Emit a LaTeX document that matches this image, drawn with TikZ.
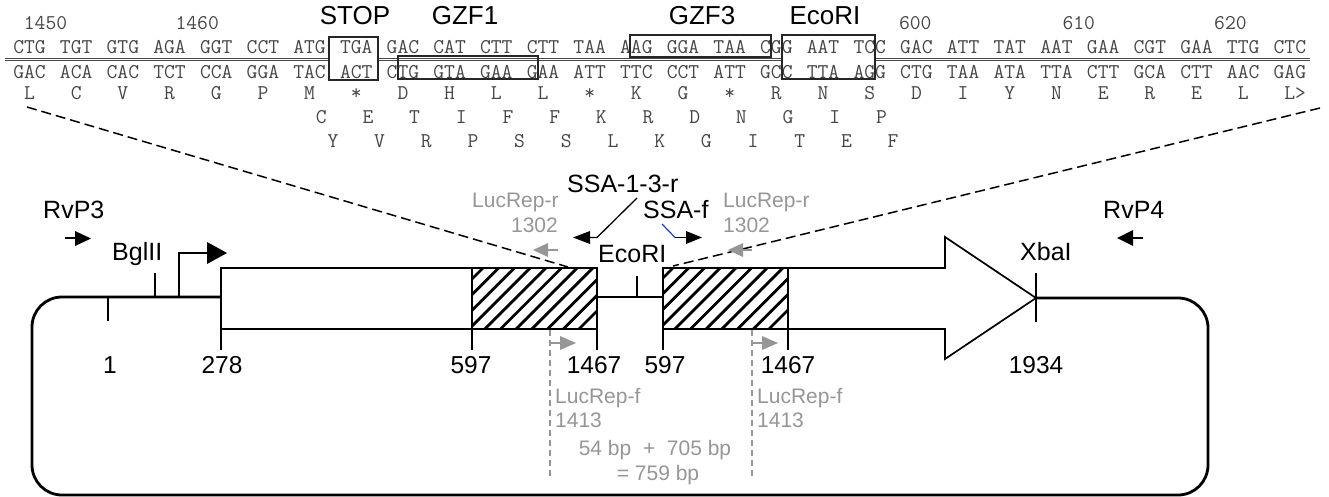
\documentclass[tikz,border=0pt]{standalone}
\usepackage{fontspec}
\setmainfont{Liberation Sans}
\definecolor{seqc}{RGB}{70,70,70}
\definecolor{lgray}{RGB}{150,150,150}
\definecolor{sblue}{RGB}{30,60,230}
\begin{document}
\begin{tikzpicture}[x=1pt,y=-1pt,
  lab/.style={font=\fontsize{25}{25}\selectfont, inner sep=0, anchor=base west},
  toplab/.style={font=\fontsize{26}{26}\selectfont, inner sep=0, anchor=base},
  num/.style={font=\fontsize{24.5}{24.5}\selectfont, inner sep=0, anchor=base},
  glab/.style={font=\fontsize{21}{21}\selectfont, text=lgray, inner sep=0, anchor=base west},
  seq/.style={font=\ttfamily\fontsize{21}{21}\selectfont, text=seqc, inner sep=0, anchor=base},
  seqw/.style={font=\ttfamily\fontsize{21}{21}\selectfont, text=seqc, inner sep=0, anchor=base west},
  seqbox/.style={draw=black!85, line width=1.5pt},
  zoomline/.style={line width=1.5pt, dash pattern=on 10pt off 5pt},
  backbone/.style={line width=2.8pt},
  outline/.style={line width=1.7pt},
  tick/.style={line width=1.5pt},
  hatch/.style={line width=2.8pt},
  gdash/.style={draw=lgray, line width=1.2pt, dash pattern=on 6pt off 4pt},
]
\useasboundingbox (0,0) rectangle (1329,497);

% ---------------- sequence ----------------
\foreach \c [count=\i from 0] in {CTG,TGT,GTG,AGA,GGT,CCT,ATG,TGA,GAC,CAT,CTT,CTT,TAA,AAG,GGA,TAA,CGG,AAT,TCC,GAC,ATT,TAT,AAT,GAA,CGT,GAA,TTG,CTC}
  \node[seq] (top\i) at ({12+(4*\i+1.5)*11.67},54) {\c};
\foreach \c [count=\i from 0] in {GAC,ACA,CAC,TCT,CCA,GGA,TAC,ACT,CTG,GTA,GAA,GAA,ATT,TTC,CCT,ATT,GCC,TTA,AGG,CTG,TAA,ATA,TTA,CTT,GCA,CTT,AAC,GAG}
  \node[seq] (bot\i) at ({12+(4*\i+1.5)*11.67},79) {\c};
\foreach \c [count=\i from 0] in {L,C,V,R,G,P,M,*,D,H,L,L,*,K,G,*,R,N,S,D,I,Y,N,E,R,E,L}
  \node[seq] (aa\i) at ({12+(4*\i+1.5)*11.67},100) {\c};
\node[seqw] (aalast) at ({12+109*11.67},100) {L>};
\foreach \c [count=\i from 0] in {C,E,T,I,F,F,K,R,D,N,G,I,P}
  \node[seq] (ab\i) at ({12+(4*\i+26.5)*11.67},124) {\c};
\foreach \c [count=\i from 0] in {Y,V,R,P,S,S,L,K,G,I,T,E,F}
  \node[seq] (ac\i) at ({12+(4*\i+27.5)*11.67},148) {\c};

\node[seqw] (n1450) at ({12+1*11.67},30) {1450};
\node[seqw] (n1460) at ({12+14*11.67},30) {1460};
\node[seqw] (n600) at ({12+76*11.67},30) {600};
\node[seqw] (n610) at ({12+90*11.67},30) {610};
\node[seqw] (n620) at ({12+103*11.67},30) {620};

\draw[seqc, line width=0.8pt, double=white, double distance=1.1pt]
  (5,59.7) -- (329,59.7) (378,59.7) -- (782,59.7) (875,59.7) -- (1310,59.7);

\draw[seqbox] (329,37) rectangle (378,80);
\draw[seqbox] (398,56) rectangle (538,79);
\draw[seqbox] (630,35) rectangle (771,57);
\draw[seqbox] (782,35) rectangle (875,79);

\node[toplab] (stop) at (355,25) {STOP};
\node[toplab] (gzf1) at (465,25) {GZF1};
\node[toplab] (gzf3) at (702,25) {GZF3};
\node[toplab] (ecotop) at (825,25) {EcoRI};

% zoom lines
\coordinate (zl1) at (27,107);
\coordinate (zl2) at (568,267);
\coordinate (zr1) at (1320,108);
\coordinate (zr2) at (673,266);

% ---------------- construct ----------------
\draw[backbone, rounded corners=30pt]
  (221,297) -- (32,297) -- (32,495) -- (1208,495) -- (1208,298) -- (1036,298);
\draw[backbone] (597,297) -- (663,297);

% boxes
\draw[outline, fill=white] (221,268) rectangle (597,329);
\draw[outline, fill=white] (663,268) -- (945,268) -- (945,237) -- (1036,298)
  -- (945,359) -- (945,329) -- (663,329) -- cycle;

% hatched regions
\fill[white] (472,268) rectangle (597,329);
\begin{scope}
  \clip (472,268) rectangle (597,329);
  \foreach \s in {-5,...,10} \draw[hatch] ({483+\s*15.7},268) -- ++(-61,61);
\end{scope}
\draw[outline] (472,268) rectangle (597,329);
\fill[white] (663,268) rectangle (788,329);
\begin{scope}
  \clip (663,268) rectangle (788,329);
  \foreach \s in {-5,...,10} \draw[hatch] ({673+\s*15.7},268) -- ++(-61,61);
\end{scope}
\draw[outline] (663,268) rectangle (788,329);

\draw[zoomline] (zl1) -- (zl2);
\draw[zoomline] (zr1) -- (zr2);

% ticks
\draw[tick] (108,298) -- (108,321);
\draw[tick] (155,273) -- (155,297);
\draw[tick] (221,329) -- (221,350);
\draw[tick] (472,329) -- (472,350);
\draw[tick] (597,329) -- (597,350);
\draw[tick] (663,329) -- (663,350);
\draw[tick] (788,329) -- (788,350);
\draw[tick] (637,276) -- (637,297);
\draw[tick] (1036,273) -- (1036,322);

% promoter
\coordinate (pr0) at (179,297);
\coordinate (pr1) at (179,253);
\coordinate (pr2) at (208,253);
\draw[line width=2.5pt] (pr0) -- (pr1) -- (pr2);
\fill (207,242) -- (227,253) -- (207,264) -- cycle;

% position labels
\node[num] (l1) at (110,373) {1};
\node[num] (l278) at (222,373) {278};
\node[num] (l597a) at (471,373) {597};
\node[num] (l1467a) at (594,373) {1467};
\node[num] (l597b) at (665,373) {597};
\node[num] (l1467b) at (788,373) {1467};
\node[num] (l1934) at (1036,373) {1934};

% site labels
\node[lab] (rvp3) at (43,218) {RvP3};
\node[lab] (rvp4) at (1103,218) {RvP4};
\node[lab] (bgl) at (112,260) {BglII};
\node[lab] (xba) at (1020,260) {XbaI};
\node[lab] (eco) at (598,262) {EcoRI};
\node[lab] (ssar) at (567,192) {SSA-1-3-r};
\node[lab] (ssaf) at (643,218) {SSA-f};

% primer arrows
\draw[line width=1.5pt] (65,238) -- (77,238);
\fill (75,231) -- (91,238.5) -- (75,246) -- cycle;
\draw[line width=1.5pt] (1131,238) -- (1143,238);
\fill (1133,230) -- (1117,238) -- (1133,246) -- cycle;

\coordinate (sr0) at (637,198);
\coordinate (sr1) at (597,237.5);
\coordinate (sr2) at (586,237.5);
\draw[line width=1.3pt] (sr0) -- (sr1) -- (sr2);
\fill (590,231) -- (573,237.5) -- (590,244) -- cycle;

\coordinate (sf0) at (662,224);
\coordinate (sf1) at (675,237.5);
\coordinate (sf2) at (688,237.5);
\draw[sblue, line width=1.2pt] (sf0) -- (sf1);
\draw[line width=1.3pt] (sf1) -- (sf2);
\fill (686,231) -- (702,237.5) -- (686,244) -- cycle;

% LucRep-r
\node[glab] (lrr1) at (472,207) {LucRep-r};
\node[glab, anchor=base east] (lrr1n) at (558,232) {1302};
\draw[lgray, line width=1.5pt] (545,250) -- (558,250);
\fill[lgray] (548,243) -- (533,250) -- (548,257) -- cycle;
\node[glab] (lrr2) at (723,207) {LucRep-r};
\node[glab] (lrr2n) at (723,232) {1302};
\draw[lgray, line width=1.5pt] (740,250) -- (752,250);
\fill[lgray] (743,243) -- (728,250) -- (743,257) -- cycle;

% LucRep-f
\coordinate (lf1t) at (550,330);
\coordinate (lf1b) at (550,476);
\coordinate (lf2t) at (752,330);
\coordinate (lf2b) at (752,476);
\draw[gdash] (lf1t) -- (lf1b);
\draw[gdash] (lf2t) -- (lf2b);
\draw[lgray, line width=1.5pt] (550,343) -- (562,343);
\fill[lgray] (560,336) -- (576,343) -- (560,350) -- cycle;
\draw[lgray, line width=1.5pt] (752,343) -- (764,343);
\fill[lgray] (762,336) -- (778,343) -- (762,350) -- cycle;
\node[glab] (lrf1) at (555,403) {LucRep-f};
\node[glab] (lrf1n) at (555,427) {1413};
\node[glab] (lrf2) at (757,403) {LucRep-f};
\node[glab] (lrf2n) at (757,427) {1413};
\node[glab, anchor=base] (sum1) at (655,455) {54 bp\ \ +\ \ 705 bp};
\node[glab, anchor=base] (sum2) at (658,480) {= 759 bp};
\end{tikzpicture}
\end{document}
